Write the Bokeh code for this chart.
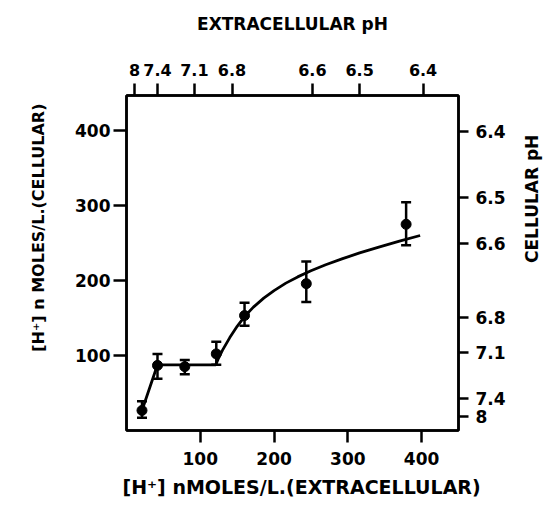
import math
from bokeh.plotting import figure
from bokeh.models import (LinearAxis, FixedTicker, Whisker, TeeHead,
                          ColumnDataSource, Range1d, Title)
from bokeh.embed import file_html
from bokeh.resources import INLINE

# ---- data ----
ext_h = [21, 42, 79, 121.7, 160, 243.7, 379]          # [H+] extracellular (nM)
cell_h = [26.7, 86.7, 85, 102, 153, 195.5, 274.5]     # [H+] cellular (nM)
cell_h_hi = [39, 102, 94, 118, 170, 225, 304]
cell_h_lo = [17, 69, 75, 87.6, 139.6, 171, 246.7]

fit_x = [21, 42, 121, 124, 130, 140, 150, 160, 172, 186, 200, 216, 232, 250, 270, 292, 316, 342, 370, 398]
fit_y = [26.7, 87.5, 87.5, 94.7, 106.7, 123.7, 138.7, 151.7, 164.3, 176.2, 186.3, 196.2, 204.5,
         212.6, 220.6, 228.5, 236.4, 244.2, 252, 259.6]

h_ticks = [100, 200, 300, 400]

ext_ph_labels = ["8", "7.4", "7.1", "6.8", "6.6", "6.5", "6.4"]
ext_ph_at_h = [11, 42, 92, 143, 252, 316, 402]

cell_ph_labels = ["6.4", "6.5", "6.6", "6.8", "7.1", "7.4", "8"]
cell_ph_at_h = [398, 310, 249, 151, 104, 43, 18]

FONT = "DejaVu Sans"

p = figure(width=554, height=507, x_range=Range1d(0, 450), y_range=Range1d(0, 446),
           output_backend="svg", toolbar_location=None,
           min_border_left=126, min_border_right=92, min_border_top=95, min_border_bottom=77)
p.grid.visible = False
p.outline_line_color = "black"
p.outline_line_width = 2.5
p.background_fill_color = "white"
p.border_fill_color = "white"


def style_axis(ax, tick_out, standoff, size="17px"):
    ax.axis_line_width = 2.5
    ax.axis_line_color = "black"
    ax.major_tick_line_width = 2.5
    ax.major_tick_in = 0
    ax.major_tick_out = tick_out
    ax.minor_tick_line_color = None
    ax.major_label_standoff = standoff
    ax.major_label_text_font = FONT
    ax.major_label_text_font_style = "bold"
    ax.major_label_text_font_size = size
    ax.major_label_text_color = "black"
    ax.axis_label_text_font = FONT
    ax.axis_label_text_font_style = "bold"
    ax.axis_label_text_font_size = "17px"
    ax.axis_label_text_color = "black"


p.xaxis.ticker = FixedTicker(ticks=h_ticks)
p.yaxis.ticker = FixedTicker(ticks=h_ticks)
style_axis(p.xaxis[0], 12, 9)
style_axis(p.yaxis[0], 13, 3)

top = LinearAxis(ticker=FixedTicker(ticks=ext_ph_at_h),
                 major_label_overrides={t: l for t, l in zip(ext_ph_at_h, ext_ph_labels)},
                 axis_label="EXTRACELLULAR pH", axis_label_standoff=27)
style_axis(top, 12, 8, size="16px")
p.add_layout(top, "above")

right = LinearAxis(ticker=FixedTicker(ticks=cell_ph_at_h),
                   major_label_overrides={t: l for t, l in zip(cell_ph_at_h, cell_ph_labels)},
                   axis_label="CELLULAR pH", axis_label_standoff=23,
                   axis_label_orientation=math.pi / 2)
style_axis(right, 10, 7)
p.add_layout(right, "right")

# fitted curve
p.line(fit_x, fit_y, line_color="black", line_width=2.8)

# error bars
src = ColumnDataSource(dict(x=ext_h, y=cell_h, hi=cell_h_hi, lo=cell_h_lo))
wh = Whisker(base="x", upper="hi", lower="lo", source=src, line_width=2.5, line_color="black",
             upper_head=TeeHead(size=10, line_width=2.5, line_color="black"),
             lower_head=TeeHead(size=10, line_width=2.5, line_color="black"))
p.add_layout(wh)

p.scatter("x", "y", source=src, size=10, color="black")

# axis titles for the [H+] axes
left_title = Title(text="[H\u207a] n MOLES/L.(CELLULAR)", align="right", offset=8, standoff=49,
                   text_font=FONT, text_font_style="bold", text_font_size="16px", text_color="black")
p.add_layout(left_title, "left")
bottom_title = Title(text="[H\u207a]  nMOLES/L.(EXTRACELLULAR)", align="left", offset=-4, standoff=13,
                     text_font=FONT, text_font_style="bold", text_font_size="19px", text_color="black")
p.add_layout(bottom_title, "below")

open("out.html", "w").write(file_html(p, INLINE))
